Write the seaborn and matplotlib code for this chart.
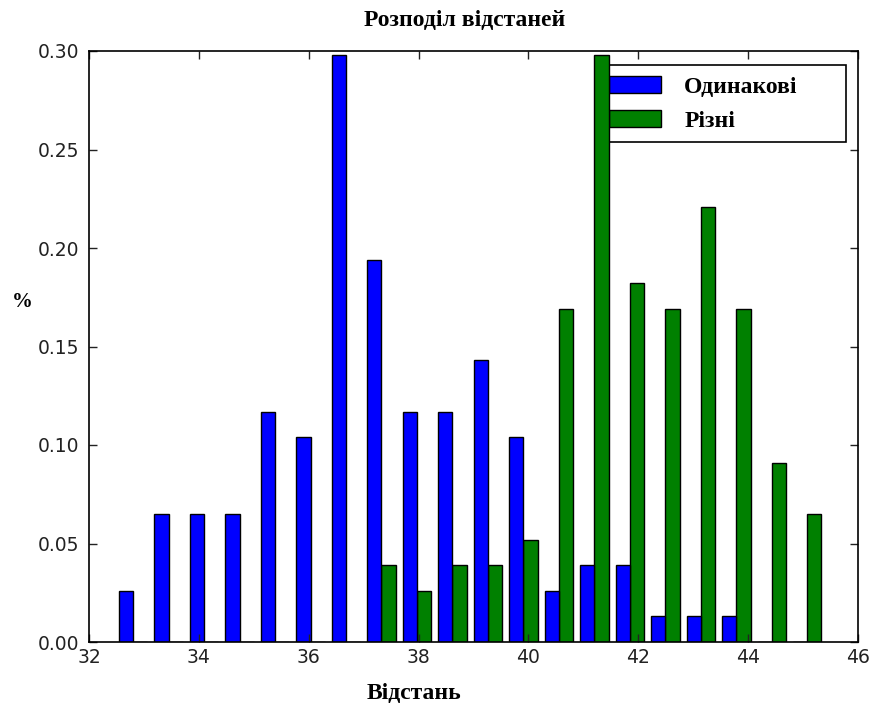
import numpy as np
import pandas as pd
import matplotlib
matplotlib.use("Agg")
import matplotlib.pyplot as plt
from matplotlib.patches import Patch
import seaborn as sns

# Histogram bins of the distance values
bin_start = 32.48
bin_width = 0.646
n_bins = 20

# Normalised frequency per bin for each group
same_vals = [0.026, 0.065, 0.065, 0.065, 0.117, 0.104, 0.298, 0.194, 0.117, 0.117,
             0.143, 0.104, 0.026, 0.039, 0.039, 0.013, 0.013, 0.013, 0.0, 0.0]
diff_vals = [0.0, 0.0, 0.0, 0.0, 0.0, 0.0, 0.0, 0.039, 0.026, 0.039,
             0.039, 0.052, 0.169, 0.298, 0.182, 0.169, 0.221, 0.169, 0.091, 0.065]

groups = ["Одинакові", "Різні"]
colors = ["#0000ff", "#008000"]

xticks = [32, 34, 36, 38, 40, 42, 44, 46]
yticks = [0.00, 0.05, 0.10, 0.15, 0.20, 0.25, 0.30]

edges = [bin_start + bin_width * i for i in range(n_bins + 1)]
centers = [(a + b) / 2 for a, b in zip(edges[:-1], edges[1:])]

df = pd.DataFrame({
    "x": centers + centers,
    "w": same_vals + diff_vals,
    "g": [groups[0]] * n_bins + [groups[1]] * n_bins,
})

plt.rcParams["font.family"] = ["DejaVu Sans"]
fig = plt.figure(figsize=(8.72, 7.11), dpi=100, facecolor="white")
ax = fig.add_axes([89 / 872, 1 - 642 / 711, (858 - 89) / 872, (642 - 51) / 711])

sns.histplot(data=df, x="x", weights="w", hue="g", bins=edges,
             multiple="dodge", shrink=0.8, hue_order=groups,
             palette=dict(zip(groups, colors)), alpha=1.0,
             edgecolor="black", linewidth=1.0, legend=False, ax=ax)

ax.set_xlim(32, 46)
ax.set_ylim(0, 0.30)
ax.set_xticks(xticks)
ax.set_yticks(yticks)
ax.set_yticklabels([f"{v:.2f}" for v in yticks])
ax.tick_params(direction="in", top=True, right=True, length=6, width=1,
               labelsize=13.5, colors="#222222")
ax.tick_params(axis="y", pad=7)
ax.tick_params(axis="x", pad=4)
for s in ax.spines.values():
    s.set_linewidth(1.2)
    s.set_color("black")
ax.grid(False)

serif = dict(family="Liberation Serif", weight="bold")
ax.set_title("Розподіл відстаней", fontsize=17, pad=18, **serif)
ax.title.set_x((465 - 89) / 769)
ax.set_xlabel("Відстань", fontsize=17, **serif)
ax.xaxis.set_label_coords((414 - 89) / 769, -0.069)
ax.set_ylabel("%", fontsize=15, rotation=0, va="center", ha="center", **serif)
ax.yaxis.set_label_coords((22 - 89) / 769, (642 - 302) / 591)

handles = [Patch(facecolor=c, edgecolor="black", linewidth=1.0) for c in colors]
leg = ax.legend(handles, groups, loc="upper left",
                bbox_to_anchor=((598 - 89) / 769, 0.0, (846 - 598) / 769, (642 - 65) / 591),
                mode="expand", borderaxespad=0.0, fancybox=False,
                framealpha=1, edgecolor="black", handlelength=2.2,
                handleheight=0.76, handletextpad=1.0, labelspacing=0.52,
                borderpad=0.45,
                prop=dict(family="Liberation Serif", weight="bold", size=17))
leg.get_frame().set_linewidth(1.2)
# the tallest bar runs over the legend's left edge
leg.set_zorder(0.9)

fig.savefig("out.png", dpi=100, facecolor="white")
